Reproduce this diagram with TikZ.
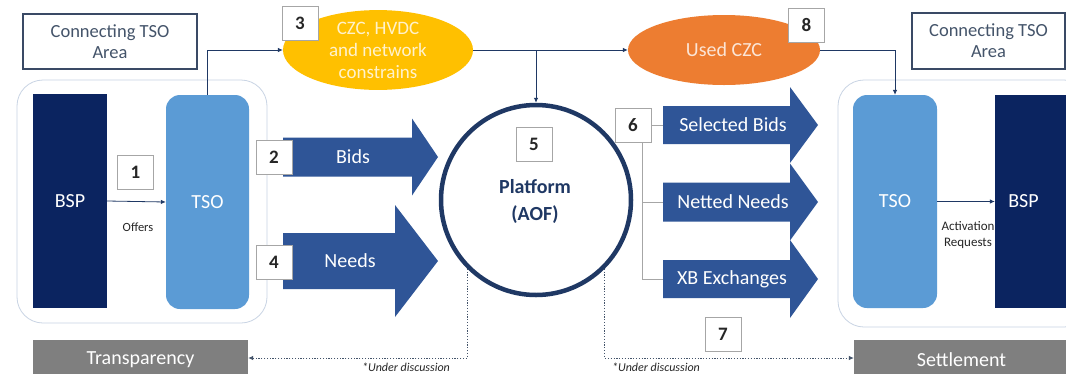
\documentclass[tikz,border=0pt]{standalone}
\usepackage{fontspec}
\setmainfont{Carlito}
\usetikzlibrary{shapes.geometric,arrows.meta}
\definecolor{navy}{HTML}{0B2460}
\definecolor{tsoblue}{HTML}{5B9BD5}
\definecolor{arrblue}{HTML}{2F5597}
\definecolor{lineblue}{HTML}{1F3864}
\definecolor{numgray}{HTML}{A6A6A6}
\definecolor{numtext}{HTML}{262626}
\definecolor{ctso}{HTML}{44546A}
\definecolor{ctsoborder}{HTML}{3A4A65}
\definecolor{contborder}{HTML}{C9D4E4}
\definecolor{ygold}{HTML}{FFC000}
\definecolor{orng}{HTML}{ED7D31}
\definecolor{greybox}{HTML}{7F7F7F}
\definecolor{ytext}{HTML}{FFF2CC}
\definecolor{otext}{HTML}{FBE5D6}
\definecolor{dotcol}{HTML}{44546A}
\newcommand\blockarr[9]{%
  \fill[arrblue] ({#2},{#5-#6}) -- ({#3},{#5-#6}) -- ({#3},{#5-#7}) -- ({#4},{#5})
    -- ({#3},{#5+#7}) -- ({#3},{#5+#6}) -- ({#2},{#5+#6}) -- cycle;
  \coordinate (#1tail) at ({#2},{#5});
  \node[arrtext] (#1) at ({#9},{#5}) {#8};
}
\tikzset{
  container/.style={draw=contborder, line width=0.8pt, rounded corners=26pt, inner sep=0pt},
  bspbox/.style={fill=navy, text=white, inner sep=0pt, font=\fontsize{20}{24}\selectfont},
  tsobox/.style={fill=tsoblue, text=white, rounded corners=14pt, inner sep=0pt, font=\fontsize{20}{24}\selectfont},
  numbox/.style={draw=numgray, fill=white, line width=0.9pt, minimum width=36pt, minimum height=34pt,
    inner sep=0pt, text=numtext, font=\bfseries\fontsize{19}{22}\selectfont},
  ctsobox/.style={draw=ctsoborder, line width=1.1pt, fill=white, inner sep=0pt, align=center,
    text=ctso, font=\fontsize{18.5}{21}\selectfont},
  arrtext/.style={text=white, inner sep=0pt, font=\fontsize{20}{24}\selectfont},
  conn/.style={draw=lineblue, line width=0.8pt, -{Latex[length=5pt,width=4.5pt]}},
  bracket/.style={draw=numgray, line width=1pt},
  dotline/.style={draw=dotcol, line width=0.8pt, dash pattern=on 1.3pt off 1.5pt, -{Latex[length=5pt,width=4.5pt]}},
  greyb/.style={fill=greybox, text=white, inner sep=0pt, font=\fontsize{20}{24}\selectfont},
  smalltext/.style={text=numtext, inner sep=0pt, align=center, font=\fontsize{12.5}{16}\selectfont},
  note/.style={text=numtext, inner sep=0pt, font=\itshape\fontsize{12}{14}\selectfont}
}
\begin{document}
\begin{tikzpicture}[x=1pt,y=-1pt]
\useasboundingbox (0,0) rectangle (1066,373);
\clip (0,0) rectangle (1066,373);
\fill[white] (0,0) rectangle (1066,373);

% containers
\node[container, minimum width=250pt, minimum height=243pt] (lcont) at (142,201.5) {};
\node[container, minimum width=252pt, minimum height=247pt] (rcont) at (964,203.5) {};

% connecting TSO area boxes
\node[ctsobox, minimum width=174pt, minimum height=55pt] (lcta) at (110,41.5) {Connecting TSO\\Area};
\node[ctsobox, minimum width=153pt, minimum height=56pt] (rcta) at (988.5,41) {Connecting TSO\\Area};

% BSP / TSO left
\node[bspbox, minimum width=74pt, minimum height=214pt] (lbsp) at (70,201) {BSP};
\node[tsobox, minimum width=83pt, minimum height=214pt] (ltso) at (207.5,202) {TSO};
% right
\node[tsobox, minimum width=84pt, minimum height=213pt] (rtso) at (895,201.5) {TSO};
\node[bspbox, minimum width=75pt, minimum height=213pt] (rbsp) at (1032.5,201.5) {};
\node[text=white, inner sep=0pt, font=\fontsize{20}{24}\selectfont] (rbsptext) at (1023.5,201.5) {BSP};

% ellipses
\node[ellipse, fill=ygold, minimum width=190pt, minimum height=70pt, inner sep=0pt, align=center,
  text=ytext, font=\fontsize{19}{22}\selectfont] (yell) at (378,50) {CZC, HVDC\\and network\\constrains};
\node[ellipse, fill=orng, minimum width=192pt, minimum height=70pt, inner sep=0pt,
  text=otext, font=\fontsize{20}{24}\selectfont] (oell) at (724,50) {Used CZC};

% platform
\node[circle, draw=lineblue, line width=4.5pt, fill=white, minimum size=190pt, inner sep=0pt] (plat) at (536,200) {};
\node[inner sep=0pt, align=center, text=lineblue, font=\bfseries\fontsize{20}{27}\selectfont] (plattext) at (535,201.5) {Platform\\(AOF)};

% block arrows
\blockarr{bids}{283}{412}{438}{157}{19.5}{38.5}{Bids}{353}
\blockarr{needs}{283}{395}{438}{261}{28}{56}{Needs}{350}
\blockarr{selb}{663}{790}{818}{125}{19}{38}{Selected Bids}{733}
\blockarr{netn}{663}{790}{818}{202}{19.5}{38.5}{Netted Needs}{733}
\blockarr{xbex}{663}{790}{818}{279}{19}{39}{XB Exchanges}{732}

% connectors
\coordinate (brpt) at (536,50);
\draw[conn] (ltso.north) |- (yell.west);
\draw[conn] (yell.east) -- (oell.west);
\draw[conn] (brpt) -- (plat.north);
\draw[conn] (oell.east) -| (rtso.north);
\draw[conn] (lbsp.east) -- (ltso.west);
\draw[conn] (rtso.east) -- (rbsp.west);

% grey boxes
\node[greyb, minimum width=215pt, minimum height=40pt] (transp) at (140.5,360) {Transparency};
\node[greyb, minimum width=215pt, minimum height=40pt] (settle) at (961.5,360) {Settlement};

% dotted
\draw[dotline] (plat.-135) |- ([yshift=2pt]transp.east);
\draw[dotline] (plat.-45) |- ([yshift=2pt]settle.west);
\node[note] (und1) at (406,367) {*Under discussion};
\node[note] (und2) at (656,367) {*Under discussion};

% texts
\node[smalltext] (offers) at (138,227) {Offers};
\node[smalltext, font=\fontsize{13}{16}\selectfont] (actreq) at (968,235) {Activation\\Requests};

% number boxes
\node[numbox] (b1) at (135.5,172.5) {1};
\node[numbox] (b2) at (274,157) {2};
\node[numbox] (b3) at (300,23.5) {3};
\node[numbox] (b4) at (274,262) {4};
\node[numbox] (b5) at (534,144.5) {5};
\node[numbox] (b6) at (633,125) {6};
\node[numbox] (b7) at (723,334) {7};
\node[numbox] (b8) at (806.5,25) {8};

% bracket of 6
\draw[bracket] (b6.east) -- (selbtail);
\draw[bracket] ([xshift=9pt]b6.south) |- (netntail);
\draw[bracket] ([xshift=9pt]b6.south) |- (xbextail);
\end{tikzpicture}
\end{document}
